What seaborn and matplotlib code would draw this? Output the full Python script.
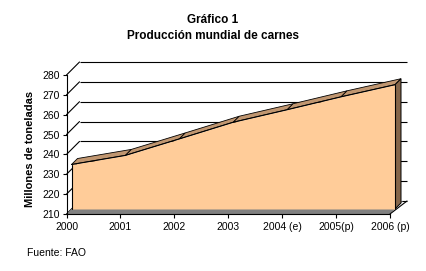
import matplotlib
matplotlib.use("Agg")
import matplotlib.pyplot as plt
from matplotlib.patches import Polygon
import seaborn as sns
import pandas as pd
import numpy as np

# ---- data ----
years = ["2000", "2001", "2002", "2003", "2004 (e)", "2005(p)", "2006 (p)"]
production = [232.4, 237.0, 245.3, 253.7, 260.0, 266.5, 272.6]
y_ticks = [210, 220, 230, 240, 250, 260, 270, 280]
title_line1 = "Gráfico 1"
title_line2 = "Producción mundial de carnes"
y_label = "Millones de toneladas"
source = "Fuente: FAO"

sns.set_theme(style="white")
plt.rcParams['font.family'] = ['Liberation Sans', 'DejaVu Sans']

W, H = 427, 271
fig = plt.figure(figsize=(W / 100, H / 100), dpi=100)
# axes: x index 0..6 -> px 66.5..390 ; y 210..280 -> px 214..75
ax_l, ax_r, ax_b, ax_t = 66.5, 390.0, 214.0, 75.0
ax = fig.add_axes([ax_l / W, 1 - ax_b / H, (ax_r - ax_l) / W, (ax_b - ax_t) / H])
n = len(years)
xs = np.arange(n)
ax.set_xlim(0, n - 1)
ax.set_ylim(y_ticks[0], y_ticks[-1])

px_x = (ax_r - ax_l) / (n - 1)
px_y = (ax_b - ax_t) / (y_ticks[-1] - y_ticks[0])
DX = 13 / px_x       # depth offset in data units (x)
DY = 13 / px_y       # depth offset in data units (y)
d0, d1 = 5 / 13, 11 / 13
ext = 4 / px_x

lw = 0.8
ymin = y_ticks[0]

# back wall gridlines and left wall diagonals
for v in y_ticks:
    ax.plot([DX, n - 1 + DX + ext], [v + DY, v + DY], color="black", lw=lw,
            clip_on=False, zorder=1, solid_capstyle="butt")
    ax.plot([0, DX], [v, v + DY], color="black", lw=lw, clip_on=False, zorder=1)

# floor
floor = Polygon([(0, ymin), (n - 1, ymin), (n - 1 + DX, ymin + DY), (DX, ymin + DY)],
                closed=True, facecolor="#808080", edgecolor="none", clip_on=False, zorder=2)
ax.add_patch(floor)
ax.plot([n - 1, n - 1 + DX + ext], [ymin, ymin + DY], color="black", lw=lw, clip_on=False, zorder=2)

# area: top surface segments
top_c = "#C09670"
side_c = "#85664A"
front_c = "#FFCC99"
for i in range(n - 1):
    poly = Polygon([(xs[i] + d0 * DX, production[i] + d0 * DY),
                    (xs[i + 1] + d0 * DX, production[i + 1] + d0 * DY),
                    (xs[i + 1] + d1 * DX, production[i + 1] + d1 * DY),
                    (xs[i] + d1 * DX, production[i] + d1 * DY)],
                   closed=True, facecolor=top_c, edgecolor="black", lw=0.6,
                   clip_on=False, zorder=3)
    ax.add_patch(poly)
# right side face
side = Polygon([(xs[-1] + d0 * DX, ymin + d0 * DY),
                (xs[-1] + d0 * DX, production[-1] + d0 * DY),
                (xs[-1] + d1 * DX, production[-1] + d1 * DY),
                (xs[-1] + d1 * DX, ymin + d1 * DY)],
               closed=True, facecolor=side_c, edgecolor="black", lw=0.7,
               clip_on=False, zorder=3)
ax.add_patch(side)

# front face via seaborn line + fill
df = pd.DataFrame({"x": xs + d0 * DX, "y": np.array(production) + d0 * DY})
ax.fill_between(df["x"], ymin + d0 * DY, df["y"], color=front_c, lw=0, zorder=4, clip_on=False)
sns.lineplot(data=df, x="x", y="y", ax=ax, color="black", lw=lw, zorder=5, clip_on=False)
ax.plot([df["x"].iloc[0]] * 2, [ymin + d0 * DY, df["y"].iloc[0]], color="black", lw=lw, zorder=5, clip_on=False)
ax.plot([df["x"].iloc[-1]] * 2, [ymin + d0 * DY, df["y"].iloc[-1]], color="black", lw=lw, zorder=5, clip_on=False)

# axes styling
for s in ["top", "right"]:
    ax.spines[s].set_visible(False)
for s in ["left", "bottom"]:
    ax.spines[s].set_color("black")
    ax.spines[s].set_linewidth(lw)
    ax.spines[s].set_zorder(6)
ax.set_xticks(xs)
ax.set_xticklabels(years)
ax.set_yticks(y_ticks)
ax.tick_params(axis="both", direction="out", length=3, width=lw, color="black",
               labelsize=7.5, labelcolor="black", pad=2)
ax.tick_params(axis="x", bottom=True, pad=3)
ax.tick_params(axis="y", left=True)
ax.set_xlabel("")
ax.set_ylabel(y_label, fontsize=8, fontweight="bold", color="black")
ax.yaxis.set_label_coords((35 - ax_l) / (ax_r - ax_l), (ax_b - 149) / (ax_b - ax_t))
ax.grid(False)
ax.set_facecolor("none")

fig.text(213 / W, 1 - 20 / H, title_line1, ha="center", va="center",
         fontsize=8.5, fontweight="bold", color="black")
fig.text(213 / W, 1 - 36 / H, title_line2, ha="center", va="center",
         fontsize=8.5, fontweight="bold", color="black")
fig.text(27 / W, 1 - 253 / H, source, ha="left", va="center", fontsize=7.5, color="black")

fig.savefig("out.png", dpi=100, facecolor="white")
